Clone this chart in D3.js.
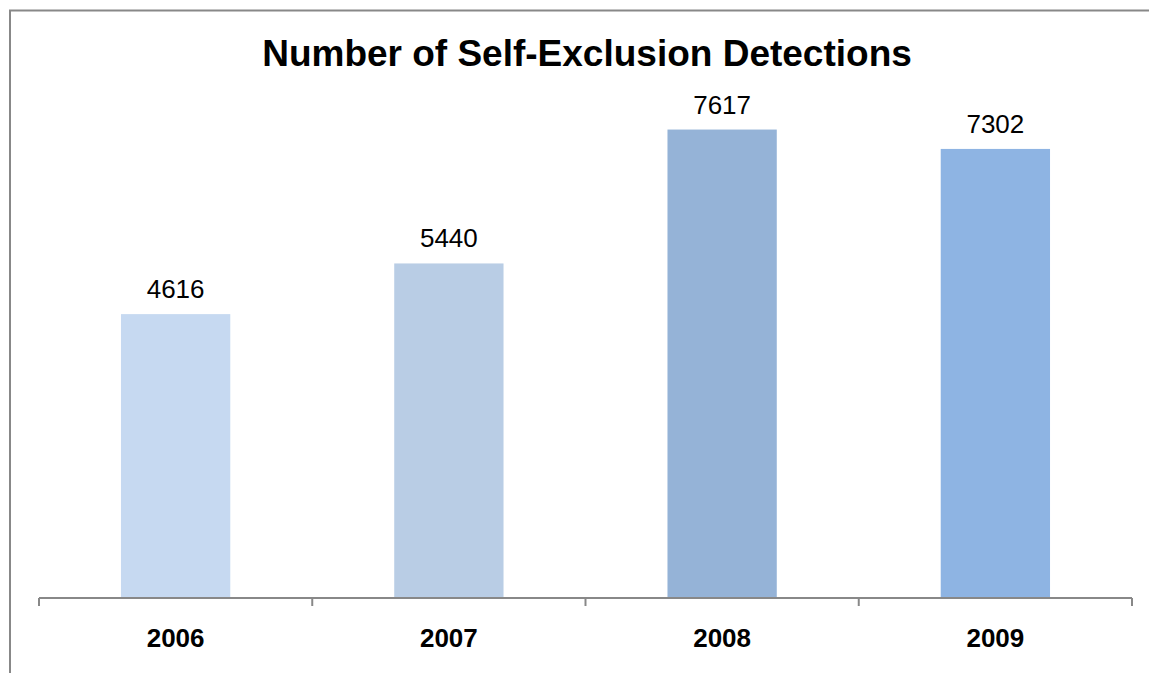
<!DOCTYPE html>
<html>
<head>
<meta charset="utf-8">
<script src="https://cdn.jsdelivr.net/npm/d3@7"></script>
<style>
  html, body { margin: 0; padding: 0; background: #fff; }
  svg { display: block; font-family: "Liberation Sans", Arial, sans-serif; }
</style>
</head>
<body>
<svg id="chart" width="1149" height="673"></svg>
<script>
// chart data
const years = ["2006", "2007", "2008", "2009"];
const detections = [4616, 5440, 7617, 7302];
const barColors = ["#c6d9f1", "#b9cde5", "#95b3d7", "#8eb4e3"];
const chartTitle = "Number of Self-Exclusion Detections";

const svg = d3.select("#chart");
const width = +svg.attr("width"),
  height = +svg.attr("height");

// frame (only top and left edges show in the picture)
svg.append("path")
  .attr("d", `M10,${height} V10.5 H${width}`)
  .attr("fill", "none")
  .attr("stroke", "#888")
  .attr("stroke-width", 2);

const margin = { left: 39, right: 17, top: 106, bottom: 75 };
const baseline = height - margin.bottom; // 598

const x = d3.scaleBand()
  .domain(years)
  .range([margin.left, width - margin.right])
  .paddingInner(0.6)
  .paddingOuter(0.3);

const y = d3.scaleLinear()
  .domain([0, 8000])
  .range([baseline, margin.top]);

svg.append("text")
  .attr("x", 587)
  .attr("y", 66)
  .attr("text-anchor", "middle")
  .attr("font-weight", "bold")
  .attr("font-size", 37)
  .attr("fill", "#000")
  .text(chartTitle);

const data = years.map((yr, i) => ({ year: yr, value: detections[i], color: barColors[i] }));

svg.selectAll(".bar")
  .data(data)
  .enter()
  .append("rect")
  .attr("class", "bar")
  .attr("x", d => x(d.year))
  .attr("width", x.bandwidth())
  .attr("y", d => y(d.value))
  .attr("height", d => baseline - y(d.value))
  .attr("fill", d => d.color);

svg.selectAll(".val")
  .data(data)
  .enter()
  .append("text")
  .attr("class", "val")
  .attr("x", d => x(d.year) + x.bandwidth() / 2)
  .attr("y", d => y(d.value) - 16)
  .attr("text-anchor", "middle")
  .attr("font-size", 26)
  .attr("fill", "#000")
  .text(d => d.value);

// category axis with ticks between bands
const bounds = d3.range(years.length + 1).map(i => margin.left + i * (width - margin.left - margin.right) / years.length);

const axisG = svg.append("g");
axisG.append("line")
  .attr("x1", bounds[0]).attr("x2", bounds[bounds.length - 1])
  .attr("y1", baseline).attr("y2", baseline)
  .attr("stroke", "#888").attr("stroke-width", 2);
axisG.selectAll(".tick")
  .data(bounds)
  .enter()
  .append("line")
  .attr("x1", d => d).attr("x2", d => d)
  .attr("y1", baseline).attr("y2", baseline + 8)
  .attr("stroke", "#888").attr("stroke-width", 2);

axisG.selectAll(".cat")
  .data(years)
  .enter()
  .append("text")
  .attr("x", d => x(d) + x.bandwidth() / 2)
  .attr("y", 647)
  .attr("text-anchor", "middle")
  .attr("font-weight", "bold")
  .attr("font-size", 26)
  .attr("fill", "#000")
  .text(d => d);
</script>
</body>
</html>
